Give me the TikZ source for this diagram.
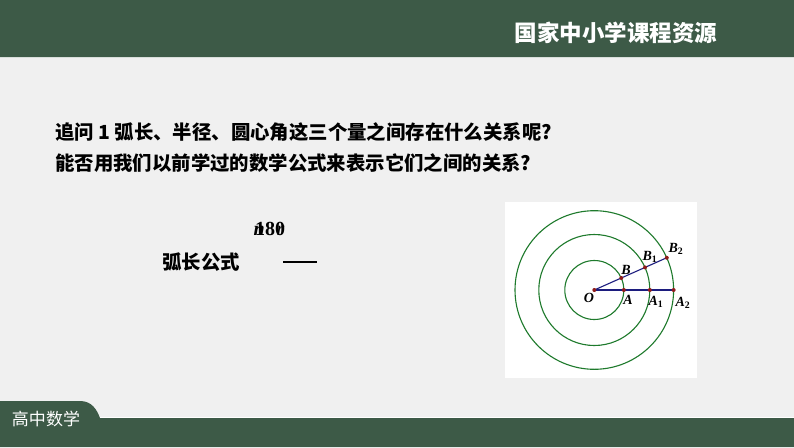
\documentclass[tikz,border=0pt]{standalone}
\usepackage{fontspec}
\setmainfont{Liberation Serif}
\newfontfamily\cjk{Noto Sans CJK SC}
\usetikzlibrary{positioning,calc}
\definecolor{bargreen}{HTML}{3D5A47}
\definecolor{bggray}{HTML}{F0F0F0}
\definecolor{ringgreen}{HTML}{1E7A2C}
\definecolor{segblue}{HTML}{1C1C7E}
\definecolor{dotred}{HTML}{8E1C1C}

\tikzset{
    dot/.style={circle, fill=dotred, inner sep=0pt, minimum size=4pt},
    ptlabel/.style={font=\fontsize{14}{14}\selectfont\bfseries\itshape, inner sep=0pt},
    ring/.style={ringgreen, line width=1.1pt},
    radius line/.style={segblue, line width=1.1pt},
    question/.style={anchor=west, inner sep=0pt, font=\cjk\bfseries\fontsize{19.4}{20}\selectfont},
}

\begin{document}
\begin{tikzpicture}[x=1pt, y=-1pt]
    \useasboundingbox (0,0) rectangle (794,447);
    \fill[bggray] (0,0) rectangle (794,447);

    % 顶部标题栏
    \fill[bargreen] (0,0) rectangle (794,57);
    \draw[white!80!bargreen, line width=1pt] (0,57.5) -- (794,57.5);
    \node[text=white, font=\cjk\bfseries\fontsize{22.5}{23}\selectfont] (title) at (616,33) {国家中小学课程资源};

    % 底部栏, 左边有一个圆角的标签
    \fill[bargreen] (0,447) -- (0,401) -- (80,401)
         .. controls (92,401) and (97,410) .. (100,418)
         -- (794,418) -- (794,447) -- cycle;
    \draw[white, line width=0.8pt] (100,417.4) -- (794,417.4);
    \node[text=white, font=\cjk\fontsize{17}{17}\selectfont] (subject) at (46,419) {高中数学};

    % 问题
    \node[question] (q1) at (55,132) {追问 1 弧长、半径、圆心角这三个量之间存在什么关系呢?};
    \node[question] (q2) at (55,163) {能否用我们以前学过的数学公式来表示它们之间的关系?};

    % 弧长公式 (分子的字母和数字叠在一起)
    \node[question] (formula) at (162,262) {弧长公式};
    \node[font=\fontsize{20}{20}\selectfont\bfseries, inner sep=0pt] (num) at (270,229)
        {\makebox[0pt][l]{\hspace{-1.5pt}\itshape n}18\makebox[0pt][l]{\hspace{1.5pt}\mdseries\itshape r}0};
    \coordinate (barl) at (283,262);
    \coordinate (barr) at (317,262);
    \draw[line width=1.6pt] (barl) -- (barr);

    % 同心圆
    \fill[white] (505,202) rectangle (697,378);
    \coordinate (O) at (594.3,290);
    \foreach \r in {29.5, 55.5, 79.3}
        \draw[ring] (O) circle[radius=\r];

    \path (O) ++(0:29.5) coordinate (A)
          (O) ++(0:55.5) coordinate (A1)
          (O) ++(0:79.3) coordinate (A2)
          (O) ++(-24:29.5) coordinate (B)
          (O) ++(-24:55.5) coordinate (B1)
          (O) ++(-24:79.3) coordinate (B2);

    \draw[radius line] (O) -- (A2);
    \draw[radius line] (O) -- (B2);

    \foreach \p in {O, A, A1, A2, B, B1, B2}
        \node[dot] (d\p) at (\p) {};

    \node[ptlabel] (lO) at (589,298) {O};
    \node[ptlabel] (lA) at (628,300) {A};
    \node[ptlabel] (lA1) at (656,302) {A\textsubscript{\upshape 1}};
    \node[ptlabel] (lA2) at (683,303) {A\textsubscript{\upshape 2}};
    \node[ptlabel] (lB) at (626,270) {B};
    \node[ptlabel] (lB1) at (650,257) {B\textsubscript{\upshape 1}};
    \node[ptlabel] (lB2) at (676,249) {B\textsubscript{\upshape 2}};
\end{tikzpicture}
\end{document}
